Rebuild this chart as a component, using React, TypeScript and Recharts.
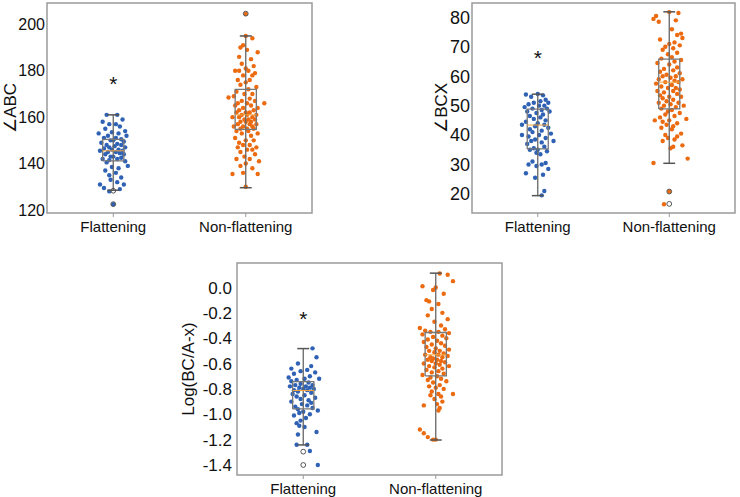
import React from "react";
import { ScatterChart, Scatter, XAxis, YAxis, ReferenceArea, ReferenceDot } from "recharts";

const groups = ["Flattening", "Non-flattening"];
const blue = "#2f62b4";
const orange = "#ec6a10";
const font = "'Liberation Sans', Arial, 'DejaVu Sans', sans-serif";

// [jitter, value] pairs
const flatABC: [number, number][] = [
  [0.03, 161], [-0.05, 161], [0.07, 159], [-0.08, 158], [0.02, 157], [-0.03, 157], [0.05, 156], [-0.06, 155],
  [0.09, 154], [-0.01, 153.5], [-0.11, 153], [0.04, 153], [0.1, 152], [-0.04, 152], [0.02, 151], [-0.07, 151],
  [0.06, 150.5], [-0.02, 150], [0.0, 150], [0.08, 149.5], [-0.09, 149], [0.03, 148.5], [-0.05, 148], [0.06, 148],
  [0.01, 147.5], [-0.03, 147], [0.09, 147], [-0.07, 146.5], [0.04, 146], [-0.01, 146], [0.07, 145.5], [-0.1, 145.5],
  [0.02, 145], [-0.04, 145], [0.05, 144.5], [-0.06, 144], [0.08, 144], [0.0, 143], [-0.02, 143], [0.06, 142.5],
  [-0.08, 142], [0.03, 142], [-0.03, 141.5], [0.09, 141], [-0.05, 140.5], [0.11, 139], [-0.01, 138.5], [0.04, 138],
  [-0.06, 137], [0.02, 136], [-0.03, 135], [0.06, 134], [-0.02, 133], [0.03, 132], [-0.1, 131], [0.08, 131],
  [-0.07, 129.5], [0.05, 129], [-0.03, 128], [0.0, 122.5],
];
const nonABC: [number, number][] = [
  [0.0, 195], [0.05, 194], [-0.02, 191], [-0.04, 190], [0.01, 189], [0.09, 188], [-0.05, 186], [0.04, 185],
  [-0.03, 183], [0.06, 182], [0.0, 181], [-0.08, 180], [-0.05, 180], [0.02, 180], [0.07, 179], [-0.02, 178],
  [0.05, 178], [-0.06, 176], [0.03, 176], [0.0, 175], [-0.04, 174], [0.08, 173], [0.02, 172], [-0.07, 171],
  [0.05, 170], [-0.01, 170], [-0.09, 169], [-0.13, 168.5], [0.03, 168], [0.07, 167], [-0.03, 167], [0.14, 166],
  [-0.06, 166], [0.01, 166], [0.04, 165], [-0.08, 165], [0.09, 164], [-0.02, 164], [0.06, 163], [-0.05, 163],
  [0.0, 162], [0.03, 162], [-0.07, 162], [0.08, 161], [-0.03, 161], [0.01, 161], [0.05, 160], [-0.05, 160],
  [-0.1, 160], [0.02, 159], [-0.01, 159], [0.07, 159], [-0.04, 158], [0.04, 158], [0.0, 158], [-0.06, 157],
  [0.03, 157], [0.08, 157], [-0.02, 156], [0.05, 156], [-0.09, 156], [0.01, 155], [-0.04, 155], [0.06, 155],
  [-0.07, 154], [0.02, 154], [0.09, 153], [-0.03, 153], [0.04, 152], [-0.08, 151], [0.0, 150], [0.06, 150],
  [-0.05, 149], [0.03, 148], [-0.02, 148], [0.08, 147], [-0.06, 147], [0.01, 146], [0.05, 146], [-0.04, 145],
  [0.07, 144], [-0.01, 143], [0.03, 142], [-0.07, 142], [0.1, 141], [0.0, 140], [-0.04, 139], [0.05, 138],
  [-0.02, 136], [-0.1, 135.5], [0.09, 135.5], [0.0, 130], [0.0, 204.5],
];
const flatBCX: [number, number][] = [
  [0.0, 54], [-0.09, 53.8], [0.04, 53.5], [-0.05, 53], [0.06, 52], [0.02, 51.5], [-0.03, 51], [0.08, 51],
  [-0.07, 50.5], [0.05, 50], [0.01, 50], [-0.1, 49.5], [0.07, 49], [-0.04, 49], [0.03, 48.5], [-0.08, 48],
  [0.09, 48], [-0.01, 47.5], [0.04, 47], [-0.06, 46.5], [0.02, 46], [-0.03, 45.5], [0.06, 45], [-0.09, 44.5],
  [0.0, 44], [0.05, 43.5], [-0.12, 43.5], [-0.02, 43], [0.08, 42.5], [-0.06, 42], [0.03, 41.5], [-0.04, 41],
  [0.1, 40.5], [-0.12, 40], [0.01, 40], [-0.07, 39.5], [0.06, 39], [-0.02, 38.5], [0.12, 38], [-0.05, 38],
  [0.03, 37.5], [-0.08, 37], [0.05, 36], [-0.03, 35.5], [0.0, 35], [-0.06, 35], [0.07, 34.5], [-0.01, 34],
  [0.02, 33.5], [-0.04, 31], [0.06, 30.5], [-0.07, 30], [0.03, 30], [-0.01, 29.5], [0.08, 28.5], [-0.09, 27],
  [0.04, 26.5], [-0.02, 25.5], [0.05, 21], [0.03, 19.5],
];
const nonBCX: [number, number][] = [
  [0.0, 81.8], [0.07, 81.5], [-0.1, 80.5], [-0.12, 79.5], [0.05, 79], [-0.08, 78.5], [0.02, 76], [0.09, 74.5],
  [0.06, 74], [0.1, 73], [-0.07, 72.5], [0.04, 71.5], [0.0, 71], [0.08, 70.5], [-0.03, 70], [0.03, 69.5],
  [-0.05, 69], [0.06, 68], [-0.01, 67.5], [0.02, 66.5], [-0.06, 66], [0.09, 65.5], [0.04, 65], [-0.09, 64.5],
  [0.0, 64], [0.06, 63], [-0.04, 62.5], [0.03, 62], [-0.07, 61.5], [0.08, 61], [-0.02, 60.5], [0.05, 60],
  [-0.05, 60], [0.01, 59.5], [0.1, 59], [-0.08, 59], [0.04, 58.5], [-0.03, 58], [0.07, 58], [-0.1, 57.5],
  [0.02, 57], [-0.06, 56.5], [0.05, 56], [-0.01, 56], [0.08, 55.5], [-0.09, 55], [0.03, 55], [-0.04, 54.5],
  [0.06, 54], [-0.07, 53.5], [0.0, 53], [0.09, 53], [-0.05, 52.5], [0.03, 52], [-0.02, 51.5], [0.07, 51],
  [-0.08, 51], [0.01, 50.5], [0.11, 50], [-0.04, 50], [0.05, 49.5], [-0.06, 49], [0.02, 48.5], [-0.01, 48],
  [0.08, 47.5], [-0.03, 47], [0.04, 46.5], [-0.07, 46], [0.13, 45.5], [-0.11, 45], [0.0, 45], [-0.05, 44.5],
  [0.06, 44], [-0.02, 43.5], [0.03, 43], [-0.06, 42.5], [0.02, 42], [0.09, 40.5], [-0.03, 40], [0.06, 39.5],
  [-0.01, 39], [0.04, 38.5], [-0.05, 38], [0.1, 36.5], [0.03, 36], [0.01, 35.5], [0.14, 32], [-0.12, 30.5],
  [0.0, 20.8], [-0.04, 16.5],
];
const flatLog: [number, number][] = [
  [0.07, -0.48], [0.1, -0.55], [-0.04, -0.6], [0.06, -0.62], [-0.09, -0.64], [0.03, -0.65], [-0.02, -0.66], [0.09, -0.67],
  [-0.07, -0.68], [0.05, -0.7], [-0.11, -0.71], [0.01, -0.72], [0.12, -0.72], [-0.05, -0.73], [-0.09, -0.74], [0.04, -0.75],
  [-0.02, -0.76], [0.07, -0.77], [-0.06, -0.77], [0.02, -0.78], [-0.1, -0.78], [0.05, -0.79], [-0.03, -0.79], [0.0, -0.8],
  [0.08, -0.8], [-0.07, -0.81], [0.03, -0.81], [-0.04, -0.82], [0.06, -0.83], [-0.08, -0.84], [0.01, -0.85], [-0.05, -0.86],
  [0.09, -0.87], [-0.02, -0.88], [0.04, -0.89], [-0.09, -0.9], [0.06, -0.91], [-0.01, -0.92], [0.03, -0.93], [-0.06, -0.94],
  [0.07, -0.95], [-0.04, -0.96], [0.11, -0.97], [0.0, -0.98], [-0.03, -0.99], [0.05, -1.0], [-0.07, -1.01], [0.02, -1.03],
  [-0.02, -1.05], [-0.05, -1.07], [-0.03, -1.09], [0.01, -1.1], [0.1, -1.14], [-0.04, -1.16], [-0.05, -1.24], [0.03, -1.24],
  [0.05, -1.29], [0.11, -1.4],
];
const nonLog: [number, number][] = [
  [0.03, 0.11], [0.09, 0.1], [0.13, 0.05], [-0.1, 0.01], [0.0, 0.0], [-0.02, -0.02], [0.06, -0.05], [-0.07, -0.1],
  [-0.05, -0.11], [0.02, -0.13], [-0.03, -0.17], [0.05, -0.2], [-0.06, -0.22], [0.09, -0.25], [-0.01, -0.27], [0.04, -0.3],
  [-0.12, -0.32], [0.07, -0.33], [-0.08, -0.34], [0.02, -0.35], [-0.04, -0.35], [0.1, -0.36], [-0.1, -0.37], [0.05, -0.38],
  [-0.02, -0.39], [0.08, -0.4], [-0.06, -0.41], [0.01, -0.42], [-0.09, -0.43], [0.04, -0.44], [-0.03, -0.45], [0.07, -0.46],
  [-0.07, -0.47], [0.0, -0.48], [0.1, -0.49], [-0.05, -0.5], [0.03, -0.5], [-0.01, -0.51], [0.06, -0.52], [-0.08, -0.53],
  [0.02, -0.53], [0.09, -0.54], [-0.04, -0.55], [0.05, -0.55], [-0.02, -0.56], [0.01, -0.57], [-0.06, -0.57], [0.04, -0.58],
  [-0.03, -0.58], [0.07, -0.59], [-0.09, -0.6], [0.0, -0.6], [0.03, -0.61], [-0.05, -0.62], [0.1, -0.62], [-0.01, -0.63],
  [0.05, -0.64], [-0.07, -0.65], [0.02, -0.66], [-0.03, -0.67], [0.06, -0.68], [-0.1, -0.69], [0.01, -0.7], [-0.04, -0.71],
  [0.04, -0.72], [-0.06, -0.73], [0.08, -0.74], [-0.02, -0.75], [0.03, -0.77], [-0.05, -0.78], [0.0, -0.79], [0.06, -0.8],
  [-0.03, -0.82], [0.02, -0.84], [0.13, -0.84], [-0.04, -0.85], [0.04, -0.86], [-0.01, -0.88], [0.05, -0.9], [0.01, -0.92],
  [-0.09, -0.93], [0.03, -0.95], [0.02, -0.97], [-0.12, -1.12], [-0.09, -1.15], [-0.06, -1.18], [0.0, -1.2], [-0.02, -1.2],
];

// box stats per group: [whisker low, q1, median, q3, whisker high]
const boxABC = [[128.5, 141.2, 145.5, 150.4, 161], [129.6, 154.7, 161, 172, 195]];
const boxBCX = [[19.4, 35.3, 43.4, 48.8, 53.9], [30.4, 48.9, 58, 65.8, 81.9]];
const boxLog = [[-1.242, -0.958, -0.813, -0.742, -0.482], [-1.203, -0.697, -0.531, -0.355, 0.113]];

// outliers: [group index, value]
const outABC: [number, number][] = [[0, 128.3], [0, 122.5], [1, 204.6]];
const outBCX: [number, number][] = [[1, 20.8], [1, 16.6]];
const outLog: [number, number][] = [[0, -1.295], [0, -1.4]];

const ticksABC = [120, 140, 160, 180, 200];
const ticksBCX = [20, 30, 40, 50, 60, 70, 80];
const ticksLog = [-1.4, -1.2, -1.0, -0.8, -0.6, -0.4, -0.2, 0.0];

const dot = (fill: string) => (p: any) => <circle cx={p.cx} cy={p.cy} r={2.2} fill={fill} />;
const ring = (p: any) => <circle cx={p.cx} cy={p.cy} r={2.4} fill="none" stroke="#555" strokeWidth={1} />;
const none = () => <g />;

type PanelProps = {
  left: number; top: number; width: number; height: number;
  margin: { top: number; right: number; bottom: number; left: number };
  yWidth: number; xHeight: number; yFont: number; yGap: number; labelX: number;
  domain: [number, number]; ticks: number[]; fmt: (v: number) => string;
  label: string; star: number;
  flat: [number, number][]; non: [number, number][]; boxes: number[][]; outliers: [number, number][];
};

function Panel(p: PanelProps) {
  const pts = (arr: [number, number][], c: number) => arr.map(([j, v]) => ({ x: c + j, y: v }));
  const outs = p.outliers.map(([g, v]) => ({ x: g + 1, y: v }));
  const hw = 0.08;
  const cw = 0.045;
  // polyline drawn through the library's scales (Scatter + line, markers hidden)
  const path = (key: string, data: { x: number; y: number }[], stroke: string, w: number) => (
    <Scatter key={key} data={data} shape={none} line={{ stroke, strokeWidth: w }} isAnimationActive={false} />
  );
  const boxLines = p.boxes.flatMap(([lo, q1, med, q3, hi], i) => {
    const c = i + 1;
    return [
      path(`w${i}`, [{ x: c, y: lo }, { x: c, y: hi }], "#666", 1.3),
      path(`ch${i}`, [{ x: c - cw, y: hi }, { x: c + cw, y: hi }], "#555", 1.5),
      path(`cl${i}`, [{ x: c - cw, y: lo }, { x: c + cw, y: lo }], "#555", 1.5),
      path(`b${i}`, [
        { x: c - hw, y: q1 }, { x: c + hw, y: q1 }, { x: c + hw, y: q3 }, { x: c - hw, y: q3 }, { x: c - hw, y: q1 },
      ], "#777", 1.3),
      path(`m${i}`, [{ x: c - hw, y: med }, { x: c + hw, y: med }], "#f4a53c", 1),
    ];
  });
  const lf = 17;
  return (
    <div style={{ position: "absolute", left: p.left, top: p.top }}>
      <ScatterChart width={p.width} height={p.height} margin={p.margin} style={{ fontFamily: font }}>
        <XAxis
          type="number" dataKey="x" domain={[0.5, 2.5]} ticks={[1, 2]} height={p.xHeight}
          tickFormatter={(v: number) => groups[v - 1]} axisLine={false}
          tickLine={{ stroke: "#999" }} tickSize={4} tickMargin={4}
          tick={{ fontSize: 15, fill: "#111", fontFamily: font }}
        />
        <YAxis
          type="number" dataKey="y" domain={p.domain} ticks={p.ticks} width={p.yWidth}
          tickFormatter={p.fmt} axisLine={false} tickLine={false} tickSize={0} tickMargin={p.yGap}
          tick={{ fontSize: p.yFont, fill: "#111", fontFamily: font }}
          label={(lp: any) => {
            const vb = lp.viewBox;
            const bx = p.labelX + lf * 0.36;
            const cy = vb.y + vb.height / 2;
            return (
              <text x={bx} y={cy} transform={`rotate(-90 ${bx} ${cy})`} textAnchor="middle"
                fontSize={lf} fill="#111" fontFamily={font}>
                {p.label}
              </text>
            );
          }}
        />
        <ReferenceArea x1={0.5} x2={2.5} y1={p.domain[0]} y2={p.domain[1]} fill="none" stroke="#9a9a9a" strokeWidth={1.5} ifOverflow="visible" />
        <Scatter data={pts(p.flat, 1)} shape={dot(blue)} isAnimationActive={false} />
        <Scatter data={pts(p.non, 2)} shape={dot(orange)} isAnimationActive={false} />
        {boxLines}
        <Scatter data={outs} shape={ring} isAnimationActive={false} />
        <ReferenceDot
          x={1} y={p.star} r={0} ifOverflow="visible"
          shape={(sp: any) => (
            <text x={sp.cx} y={sp.cy + 11} textAnchor="middle" fontSize={21} fill="#111" fontFamily={font}>*</text>
          )}
        />
      </ScatterChart>
    </div>
  );
}

export default function App() {
  return (
    <div style={{ position: "absolute", left: 0, top: 0, width: 740, height: 497, background: "#fff" }}>
      <Panel
        left={0} top={0} width={320} height={245} margin={{ top: 3, right: 8, bottom: 2, left: 0 }}
        yWidth={47} xHeight={30} yFont={16} yGap={2} labelX={10}
        domain={[118.7, 209.2]} ticks={ticksABC} fmt={(v) => String(v)}
        label="∠ABC" star={176} flat={flatABC} non={nonABC} boxes={boxABC} outliers={outABC}
      />
      <Panel
        left={400} top={0} width={340} height={245} margin={{ top: 3, right: 5, bottom: 2, left: 0 }}
        yWidth={72} xHeight={30} yFont={18} yGap={2} labelX={41}
        domain={[13.5, 84.9]} ticks={ticksBCX} fmt={(v) => String(v)}
        label="∠BCX" star={67.5} flat={flatBCX} non={nonBCX} boxes={boxBCX} outliers={outBCX}
      />
      <Panel
        left={160} top={260} width={350} height={237} margin={{ top: 3, right: 8, bottom: 0, left: 0 }}
        yWidth={77} xHeight={22} yFont={17} yGap={5} labelX={28}
        domain={[-1.479, 0.193]} ticks={ticksLog} fmt={(v) => v.toFixed(1)}
        label="Log(BC/A-x)" star={-0.215} flat={flatLog} non={nonLog} boxes={boxLog} outliers={outLog}
      />
    </div>
  );
}
